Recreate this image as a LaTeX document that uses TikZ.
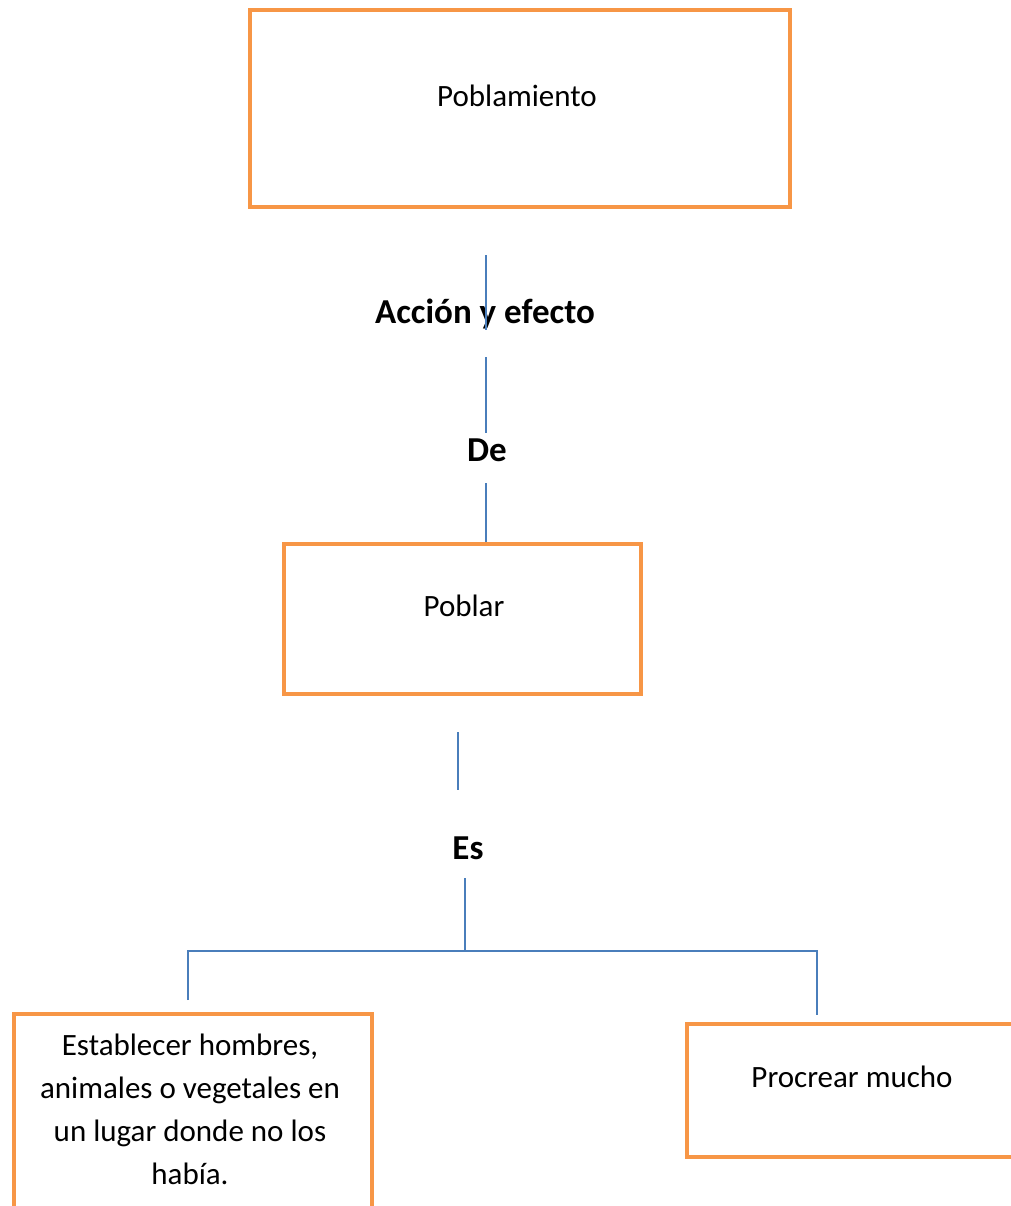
\documentclass[tikz,border=0pt]{standalone}
\usepackage{fontspec}
\setmainfont{Carlito}
\usetikzlibrary{positioning}
\definecolor{boxorange}{HTML}{F79646}
\definecolor{linkblue}{HTML}{4A7EBB}
\tikzset{
  boxframe/.style={draw=boxorange, line width=2pt, fill=white, inner sep=0pt},
  boxtext/.style={align=center, inner sep=0pt, font=\fontsize{15.5}{21.5}\selectfont},
  link/.style={draw=linkblue, line width=1pt},
  linklabel/.style={inner sep=0pt, font=\bfseries\fontsize{17.5}{20}\selectfont}
}

\begin{document}
\begin{tikzpicture}[x=0.5pt,y=-0.5pt]
\useasboundingbox (0,0) rectangle (1011,1206);
\clip (0,0) rectangle (1011,1206);

% boxes
\node[boxframe, minimum width=270pt, minimum height=98.5pt] (poblamiento) at (520,108) {};
\node[boxtext] (poblamientotxt) at (517,96) {Poblamiento};

\node[boxframe, minimum width=178.5pt, minimum height=75pt] (poblar) at (462.5,619) {};
\node[boxtext] (poblartxt) at (464,606) {Poblar};

\node[boxframe, minimum width=179pt, minimum height=108pt] (establecer) at (193,1122) {};
\node[boxtext] (establecertxt) at (190,1109) {Establecer hombres,\\animales o vegetales en\\un lugar donde no los\\había.};

\node[boxframe, minimum width=176.5pt, minimum height=66.5pt] (procrear) at (863.5,1090.5) {};
\node[boxtext] (procreartxt) at (852,1077) {Procrear mucho};

% connector labels
\node[linklabel] (accion) at (485,314) {Acción y efecto};
\node[linklabel] (de) at (487,450) {De};
\node[linklabel] (es) at (468,848) {Es};

% connectors
\coordinate (top1) at (486,255);
\coordinate (top1end) at (486,330);
\coordinate (mid1) at (486,357);
\coordinate (mid1end) at (486,433);
\coordinate (low1) at (486,483);
\draw[link] (top1) -- (top1end);
\draw[link] (mid1) -- (mid1end);
\draw[link] (low1) -- (low1 |- poblar.north);

\coordinate (es1) at (458,732);
\coordinate (es1end) at (458,790);
\coordinate (es2) at (465,878);
\coordinate (fork) at (465,951);
\coordinate (leftdrop) at (188,1000);
\coordinate (rightdrop) at (817,1015);
\draw[link] (es1) -- (es1end);
\draw[link] (es2) -- (fork);
\draw[link] (leftdrop) |- (fork) -| (rightdrop);

\end{tikzpicture}
\end{document}
